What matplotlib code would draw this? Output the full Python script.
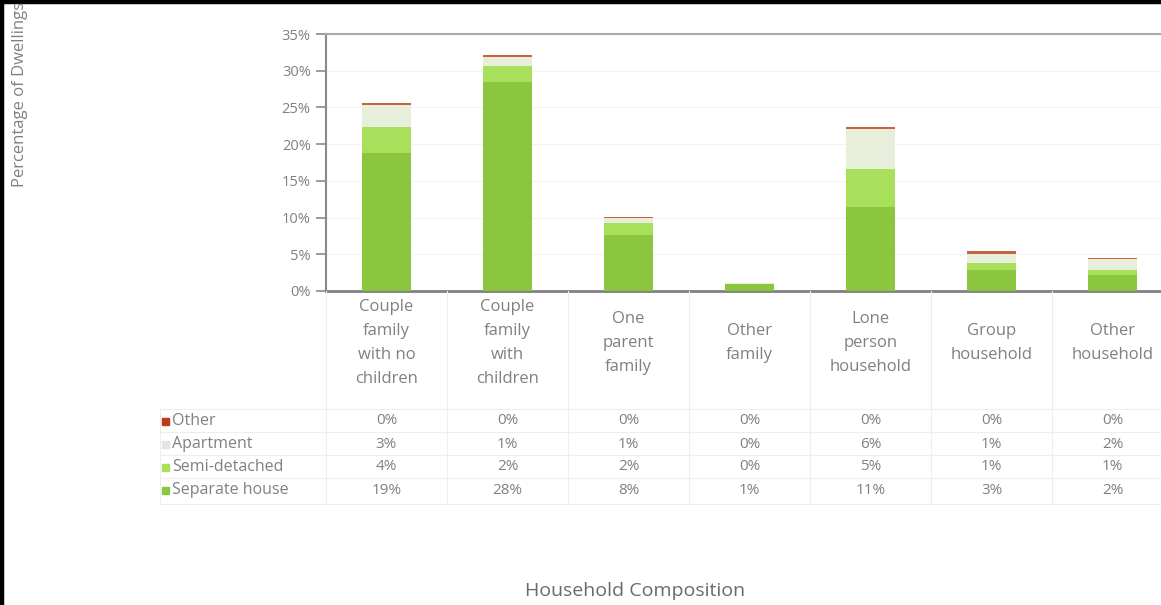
import matplotlib
matplotlib.use('Agg')
import matplotlib.pyplot as plt
import matplotlib.transforms as mtransforms
from matplotlib.lines import Line2D
from matplotlib.patches import Rectangle
import numpy as np

plt.rcParams['font.family'] = ['Open Sans', 'DejaVu Sans']

# data (percent of dwellings)
categories = ['Couple\nfamily\nwith no\nchildren', 'Couple\nfamily\nwith\nchildren',
              'One\nparent\nfamily', 'Other\nfamily', 'Lone\nperson\nhousehold',
              'Group\nhousehold', 'Other\nhousehold']
separate_house = [18.8, 28.4, 7.6, 0.9, 11.4, 2.9, 2.2]
semi_detached = [3.6, 2.2, 1.6, 0.1, 5.2, 0.9, 0.6]
apartment = [2.9, 1.2, 0.7, 0.1, 5.5, 1.3, 1.5]
other = [0.3, 0.3, 0.2, 0.0, 0.3, 0.3, 0.2]

series_names = ['Other', 'Apartment', 'Semi-detached', 'Separate house']
series_vals = [other, apartment, semi_detached, separate_house]
colors = {'Separate house': '#8cc63e', 'Semi-detached': '#a9e05b',
          'Apartment': '#e7efdb', 'Other': '#c8623e'}
legend_colors = {'Separate house': '#8cc63e', 'Semi-detached': '#a9e05b',
                 'Apartment': '#e4e4e4', 'Other': '#c0391b'}

W, H = 1161, 605
fig = plt.figure(figsize=(W / 100, H / 100), dpi=100)

def fx(px):
    return px / W

def fy(py):
    return 1 - py / H

txt = '#808080'

# plot area (right side is cropped in the original)
x0, x1, ytop, ybot = 326, 1173, 34, 291
ax = fig.add_axes([fx(x0), fy(ybot), fx(x1 - x0), (ybot - ytop) / H])

x = np.arange(len(categories))
bottom = np.zeros(len(categories))
for name, vals in [('Separate house', separate_house), ('Semi-detached', semi_detached),
                   ('Apartment', apartment), ('Other', other)]:
    ax.bar(x, vals, width=0.4, bottom=bottom, color=colors[name], zorder=3)
    bottom += np.array(vals)

ax.set_xlim(-0.5, len(categories) - 0.5)
ax.set_ylim(0, 35)
ax.set_yticks(np.arange(0, 36, 5))
ax.set_yticklabels([f'{v}%' for v in range(0, 36, 5)])
ax.tick_params(axis='y', colors='#8a8a8a', labelcolor=txt, labelsize=10.5,
               length=7, width=1.2, pad=4)
ax.tick_params(axis='x', bottom=False, labelbottom=False)
ax.grid(axis='y', color='#f3f3f3', lw=0.8, zorder=0)
ax.spines['right'].set_visible(False)
ax.spines['left'].set_color('#8a8a8a')
ax.spines['left'].set_linewidth(1.5)
ax.spines['top'].set_color('#a8a8a8')
ax.spines['top'].set_linewidth(1.5)
ax.spines['bottom'].set_color('#808080')
ax.spines['bottom'].set_linewidth(2)

# data table below the plot
tr = mtransforms.blended_transform_factory(ax.transData, fig.transFigure)
for i, c in enumerate(categories):
    fig.text(i, fy(343), c, transform=tr, ha='center', va='center',
             fontsize=12, color=txt, linespacing=1.65)

row_y = [421, 444, 467, 490]
for name, vals, ry in zip(series_names, series_vals, row_y):
    fig.add_artist(Rectangle((fx(162), fy(ry) - 3.5 / H), 7 / W, 7 / H,
                             transform=fig.transFigure, color=legend_colors[name]))
    fig.text(fx(172), fy(ry), name, ha='left', va='center', fontsize=11.5, color=txt)
    for i, v in enumerate(vals):
        fig.text(i, fy(ry), f'{round(v)}%', transform=tr, ha='center', va='center',
                 fontsize=11, color=txt)

# faint table grid
grid_c = '#eeeeee'
for yy in [409, 432, 455, 478, 504]:
    fig.add_artist(Line2D([fx(160), 1], [fy(yy), fy(yy)], transform=fig.transFigure,
                          color=grid_c, lw=0.8))
for i in range(len(categories) + 1):
    fig.add_artist(Line2D([i - 0.5, i - 0.5], [fy(291), fy(504)], transform=tr,
                          color=grid_c, lw=0.8))
fig.add_artist(Line2D([fx(160), fx(160)], [fy(409), fy(504)], transform=fig.transFigure,
                      color=grid_c, lw=0.8))

# axis titles
fig.text(fx(20), fy(94), 'Percentage of Dwellings', rotation=90, ha='center',
         va='center', fontsize=12, color=txt)
fig.text(fx(635), fy(591), 'Household Composition', ha='center', va='center',
         fontsize=14, color='#6a6a6a')

# black frame on top and left edges
fig.add_artist(Line2D([fx(2), fx(2)], [0, 1], transform=fig.transFigure,
                      color='black', lw=3.2, solid_capstyle='butt'))
fig.add_artist(Line2D([0, 1], [fy(2), fy(2)], transform=fig.transFigure,
                      color='black', lw=3.2, solid_capstyle='butt'))

fig.savefig('out.png', dpi=100)
